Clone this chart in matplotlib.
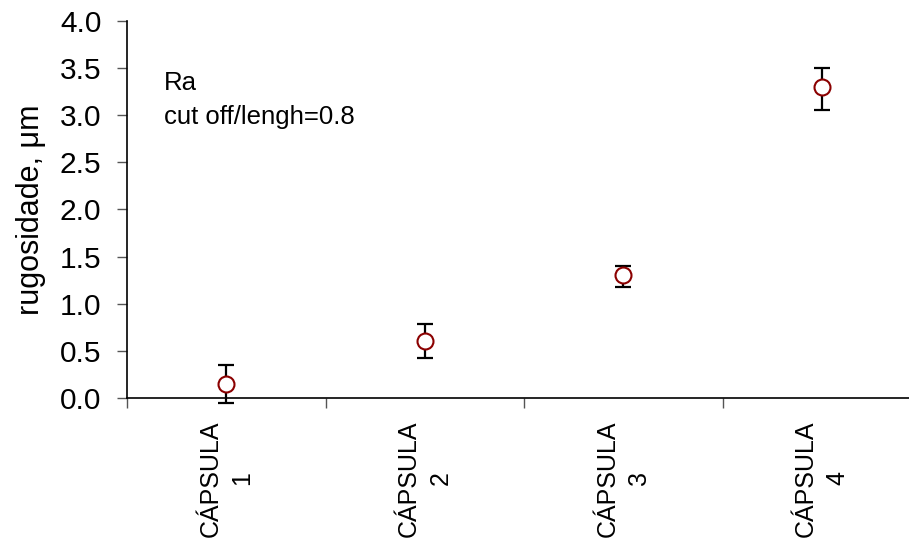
import matplotlib
matplotlib.use("Agg")
import matplotlib.pyplot as plt
import numpy as np

categories = ["CÁPSULA\n1", "CÁPSULA\n2", "CÁPSULA\n3", "CÁPSULA\n4"]
ra_mean = [0.15, 0.60, 1.30, 3.30]
err_low = [0.20, 0.18, 0.12, 0.25]
err_high = [0.20, 0.18, 0.10, 0.20]
yticks = [0.0, 0.5, 1.0, 1.5, 2.0, 2.5, 3.0, 3.5, 4.0]

plt.rcParams['font.family'] = ['Liberation Sans', 'DejaVu Sans']

fig = plt.figure(figsize=(9.09, 5.45), dpi=100)
W, H = 909, 545
ax = fig.add_axes([127 / W, (H - 398) / H, 794 / W, 377.3 / H])

x = np.arange(len(categories)) + 0.5
eb = ax.errorbar(x, ra_mean, yerr=[err_low, err_high], fmt='none', ecolor='black',
                 elinewidth=1.6, capsize=5.5, capthick=1.6, zorder=2)
for art in eb.lines[1] + eb.lines[2]:
    art.set_clip_on(False)
ax.plot(x, ra_mean, 'o', mfc='white', mec='#8b0000', mew=1.5, ms=11.5,
        zorder=3, ls='none', clip_on=False)

ax.set_xlim(0, len(categories))
ax.set_ylim(0, 4.0)
ax.set_yticks(yticks)
ax.set_yticklabels([f"{v:.1f}" for v in yticks], fontsize=21.5)
ax.set_xticks(np.arange(len(categories) + 1))
ax.set_xticklabels([])
ax.set_xticks(x, minor=True)
ax.set_xticklabels(categories, minor=True, rotation=90, fontsize=18,
                   ha='center', va='top', multialignment='center', linespacing=1.4)
ax.tick_params(axis='x', which='minor', length=0, pad=16)
ax.tick_params(axis='x', which='major', length=7, width=1, color='#555555')
ax.tick_params(axis='y', length=7, width=1, color='#555555', pad=11.5)

for s in ['top', 'right']:
    ax.spines[s].set_visible(False)
for s in ['left', 'bottom']:
    ax.spines[s].set_linewidth(1.2)
    ax.spines[s].set_color('black')

ax.set_ylabel("rugosidade, μm", fontsize=22, labelpad=10)

ax.text(0.186, 3.27, "Ra", fontsize=18.5, ha='left', va='baseline')
ax.text(0.186, 2.905, "cut off/lengh=0.8", fontsize=18.5, ha='left', va='baseline')

fig.savefig("out.png", dpi=100)
